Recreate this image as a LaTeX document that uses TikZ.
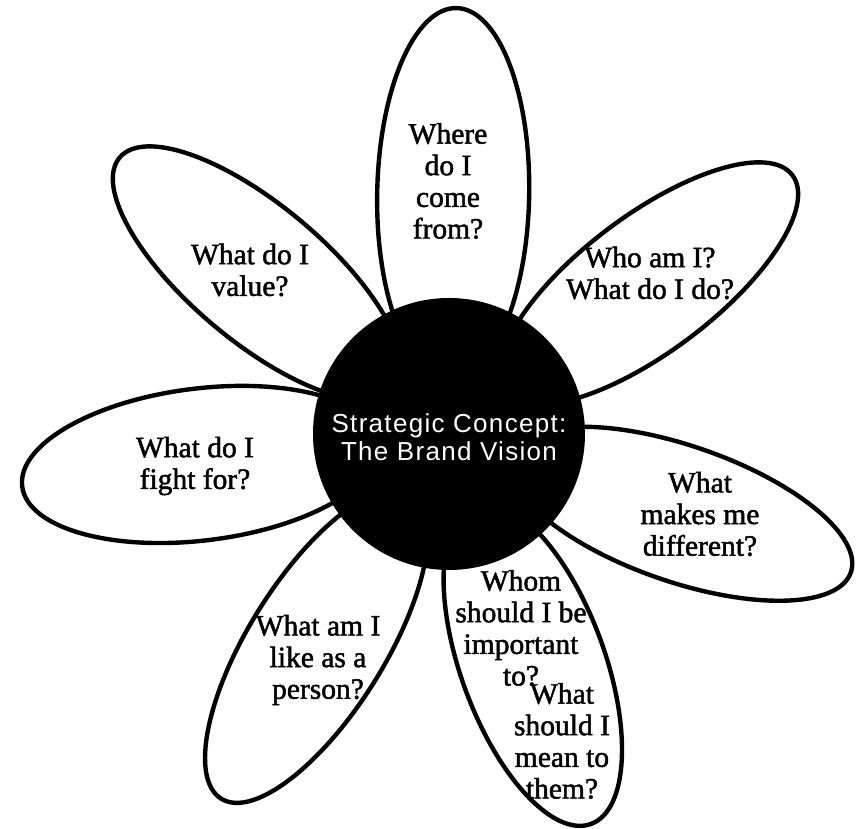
\documentclass[tikz,border=0pt]{standalone}
\usepackage{fontspec}
\setmainfont[FakeBold=1.6]{Liberation Serif}
\newfontfamily\hubfont[LetterSpace=5]{Liberation Sans}

\tikzset{
    petal/.style={line width=2.5pt},
    question/.style={align=center, font=\fontsize{16.8}{18}\selectfont},
}

\begin{document}
\begin{tikzpicture}
    \useasboundingbox (-8.98, -7.9) rectangle (8.22, 8.68);

    % Petals (drawn round the centre, overlaps left visible)
    \draw[petal, rotate=89]  (4.8, 0) ellipse (3.72 and 1.52);
    \draw[petal, rotate=37]  (5.0, 0) ellipse (3.6 and 1.36);
    \draw[petal, rotate=-19] (4.9, 0) ellipse (3.6 and 1.36);
    \draw[petal, rotate=-70] (4.9, 0) ellipse (3.4 and 1.44);
    \draw[petal, rotate=238] (5.0, 0) ellipse (3.6 and 1.36);
    \draw[petal, rotate=187] (5.0, 0) ellipse (3.6 and 1.52);
    \draw[petal, rotate=140] (5.0, 0) ellipse (3.6 and 1.36);

    % Centre disc
    \fill (0, 0) circle (2.72);
    \node[white, align=center, font=\hubfont\fontsize{14.8}{15.8}\selectfont] (vision) at (0, -0.06)
        {Strategic Concept:\\The Brand Vision};

    % Questions
    \node[question] (origin) at (-0.02, 5.06) {Where\\do I\\come\\from?};
    \node[question] (identity) at (4.02, 3.22) {Who am I?\\What do I do?};
    \node[question] (values) at (-3.98, 3.28) {What do I\\value?};
    \node[question] (cause) at (-5.08, -0.64) {What do I\\fight for?};
    \node[question] (persona) at (-2.62, -4.52) {What am I\\like as a\\person?};
    \node[question] (edge) at (5.02, -1.6) {What\\makes me\\different?};
    \node[question] (audience) at (1.44, -3.88) {Whom\\should I be\\important\\to?};
    \node[question] (meaning) at (2.26, -6.14) {What\\should I\\mean to\\them?};
\end{tikzpicture}
\end{document}
